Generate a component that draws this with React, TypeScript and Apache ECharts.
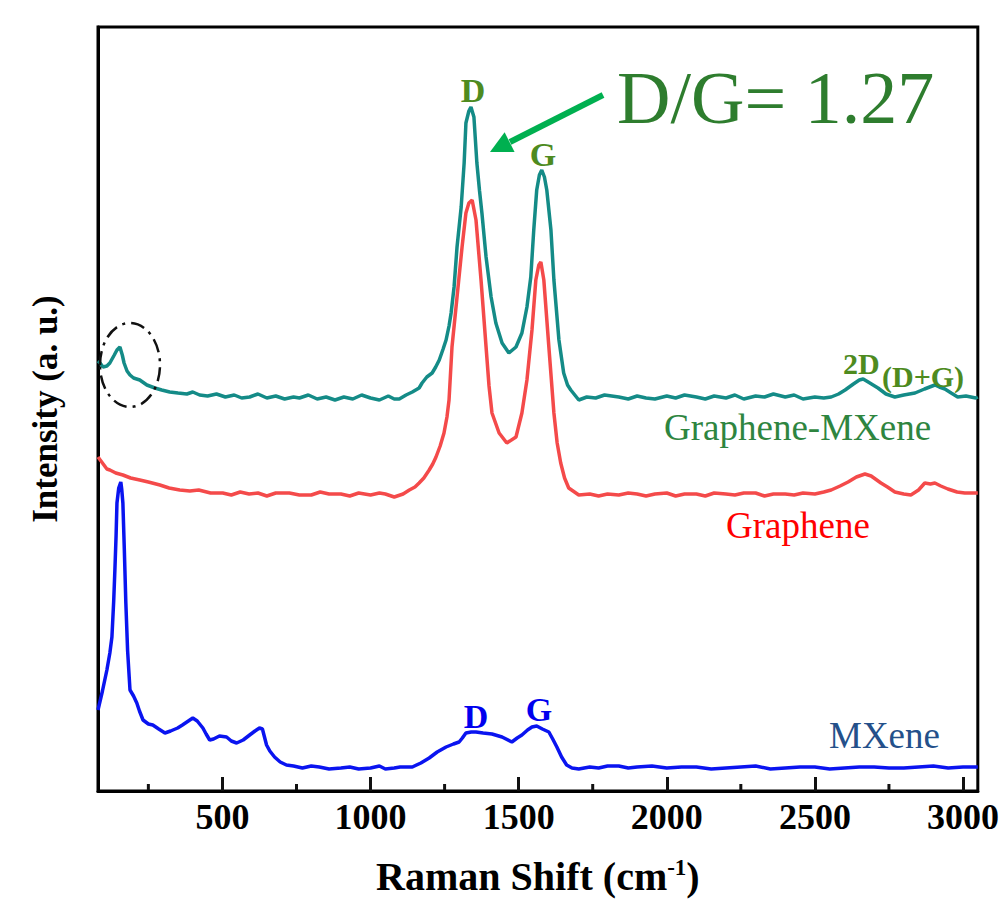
import React, { useEffect, useRef } from "react";
import * as echarts from "echarts";

// Raman shift (cm-1) vs intensity (a.u., offset stacked as in the figure)
const grapheneMXene: [number, number][] = [
  [80,430],[87,428],[97,424],[110,425],[120,428],[135,436],[144,441],[154,444],[162,436],[168,428],[178,420],[188,416],[200,413],[221,411],[245,406],[272,403],[295,401],[322,399],[350,398],[380,397],[400,399],[423,396],[450,395],[480,397],[510,394],[540,396],[565,393],[592,394],[620,397],[650,393],[680,395],[710,392],[740,394],[760,393],[790,396],[820,392],[850,394],[880,391],[910,394],[940,392],[970,396],[1000,393],[1030,391],[1060,395],[1080,392],[1097,392],[1120,396],[1141,399],[1164,403],[1174,408],[1190,414],[1208,418],[1220,424],[1232,431],[1245,442],[1255,451],[1265,465],[1272,478],[1282,504],[1292,544],[1306,584],[1316,628],[1322,668],[1332,680],[1339,684],[1349,674],[1359,628],[1368,600],[1376,578],[1390,534],[1407,494],[1423,468],[1444,448],[1467,438],[1491,444],[1511,458],[1528,484],[1541,514],[1551,561],[1561,601],[1570,616],[1578,621],[1587,614],[1595,601],[1609,561],[1619,511],[1636,451],[1652,418],[1665,406],[1676,401],[1703,391],[1730,394],[1760,393],[1790,396],[1838,394],[1870,392],[1900,395],[1930,393],[1960,392],[2000,395],[2030,393],[2060,396],[2100,394],[2130,392],[2160,395],[2200,393],[2230,396],[2260,392],[2300,395],[2330,394],[2360,397],[2400,394],[2430,396],[2460,392],[2500,394],[2530,393],[2555,394],[2580,397],[2602,401],[2630,407],[2650,411],[2663,412],[2680,409],[2713,403],[2740,397],[2770,394],[2800,396],[2838,398],[2870,402],[2905,406],[2920,404],[2939,402],[2960,398],[2982,394],[3010,395],[3043,393],[3050,394]
];

const graphene: [number, number][] = [
  [80,334],[95,328],[110,322],[120,321],[140,318],[164,316],[190,313],[221,311],[250,309],[289,306],[320,303],[356,301],[390,300],[420,301],[460,298],[501,298],[530,296],[560,299],[590,297],[620,298],[650,295],[680,298],[726,298],[760,296],[800,296],[830,299],[860,297],[900,297],[930,295],[960,298],[1000,296],[1030,298],[1050,297],[1080,294],[1110,297],[1131,301],[1150,304],[1164,308],[1180,313],[1198,321],[1210,327],[1221,334],[1235,345],[1248,358],[1258,374],[1265,391],[1275,444],[1292,494],[1309,544],[1322,578],[1332,588],[1343,591],[1356,571],[1373,511],[1390,444],[1400,405],[1410,378],[1434,358],[1460,348],[1491,354],[1511,378],[1528,411],[1545,461],[1558,511],[1568,526],[1575,529],[1585,511],[1602,444],[1619,378],[1630,348],[1642,328],[1655,313],[1669,303],[1703,296],[1740,297],[1770,295],[1800,297],[1838,296],[1870,298],[1900,297],[1930,295],[1960,297],[2000,298],[2030,295],[2060,297],[2100,297],[2130,295],[2160,298],[2200,297],[2230,296],[2260,298],[2300,298],[2330,295],[2360,297],[2400,297],[2430,296],[2460,298],[2500,297],[2530,299],[2555,301],[2585,305],[2612,309],[2640,314],[2669,317],[2690,315],[2723,308],[2745,304],[2770,299],[2800,297],[2824,296],[2850,301],[2871,308],[2890,307],[2905,308],[2925,305],[2949,302],[2980,299],[3006,298],[3043,298],[3050,298]
];

const mxene: [number, number][] = [
  [80,81],[95,100],[110,121],[120,138],[127,154],[133,190],[137,221],[141,255],[144,288],[150,303],[157,309],[160,302],[164,288],[169,240],[174,188],[180,140],[188,101],[200,95],[211,88],[220,80],[232,71],[250,67],[265,66],[285,62],[306,58],[325,60],[349,63],[365,66],[380,69],[400,73],[415,70],[434,63],[445,57],[457,51],[470,52],[490,55],[514,54],[530,50],[548,48],[570,51],[592,56],[610,60],[625,63],[635,62],[649,46],[660,40],[676,34],[695,29],[716,26],[740,25],[770,23],[800,25],[827,24],[860,22],[900,23],[930,24],[960,22],[1000,23],[1030,25],[1050,22],[1080,23],[1100,24],[1141,24],[1170,28],[1198,33],[1225,39],[1255,44],[1280,47],[1299,49],[1310,53],[1322,58],[1340,59],[1356,59],[1380,58],[1410,57],[1444,54],[1477,49],[1495,53],[1511,56],[1530,61],[1545,64],[1561,65],[1580,62],[1602,59],[1615,52],[1629,44],[1645,34],[1662,26],[1680,23],[1703,22],[1740,24],[1770,23],[1800,25],[1838,25],[1870,23],[1900,24],[1950,25],[2000,23],[2050,24],[2100,24],[2150,22],[2200,23],[2250,24],[2300,25],[2350,22],[2400,23],[2450,24],[2500,24],[2550,22],[2600,23],[2650,24],[2700,24],[2750,23],[2800,23],[2850,24],[2900,25],[2950,23],[3000,24],[3050,24]
];

const majorTicks = [500, 1000, 1500, 2000, 2500, 3000];
const minorTicks = [250, 750, 1250, 1750, 2250, 2750];

const SERIF = '"Liberation Serif", "Times New Roman", serif';
const TICK = "#111111";

function txt(text: string, x: number, y: number, size: number, color: string, bold: boolean, align: string = "left") {
  return {
    type: "text",
    z: 100,
    style: {
      text,
      x,
      y,
      fill: color,
      font: `${bold ? "bold " : ""}${size}px ${SERIF}`,
      align,
      verticalAlign: "middle",
      textAlign: align,
      textVerticalAlign: "middle",
    },
  };
}

export default function App() {
  const ref = useRef<HTMLDivElement>(null);
  useEffect(() => {
    document.body.style.margin = "0";
    const chart = echarts.init(ref.current!, null, { renderer: "svg" });
    const axisFont = { fontFamily: SERIF, fontWeight: "bold" as const, fontSize: 35, color: "#000" };
    chart.setOption({
      animation: false,
      backgroundColor: "#ffffff",
      grid: { left: 98, right: 22, top: 27, bottom: 118, show: true, borderColor: "#000", borderWidth: 3, backgroundColor: "transparent" },
      xAxis: {
        type: "value",
        min: 80,
        max: 3050,
        position: "bottom",
        splitLine: { show: false },
        axisLine: { show: true, lineStyle: { color: "#000", width: 3 } },
        axisTick: { show: true, inside: true, length: 14, customValues: majorTicks, lineStyle: { color: TICK, width: 3 } },
        axisLabel: { show: true, customValues: majorTicks, margin: 8, formatter: (v: number) => String(v), ...axisFont, fontSize: 36 },
        name: "Raman Shift (cm{sup|-1})",
        nameLocation: "middle",
        nameGap: 65,
        nameTextStyle: {
          ...axisFont,
          fontSize: 40,
          rich: {
            sup: { fontFamily: SERIF, fontWeight: "bold", fontSize: 23, color: "#000", verticalAlign: "top", padding: [0, 0, 15, 0] },
          },
        },
      },
      yAxis: {
        type: "value",
        min: 0,
        max: 764,
        splitLine: { show: false },
        axisLine: { show: true, lineStyle: { color: "#000", width: 3 } },
        axisTick: { show: false },
        axisLabel: { show: false },
        name: "Intensity (a. u.)",
        nameLocation: "middle",
        nameGap: 35,
        nameTextStyle: axisFont,
      },
      series: [
        { name: "Graphene-MXene", type: "line", data: grapheneMXene, showSymbol: false, lineStyle: { color: "#148b87", width: 3.5 }, itemStyle: { color: "#148b87" } },
        { name: "Graphene", type: "line", data: graphene, showSymbol: false, lineStyle: { color: "#f44a4a", width: 3.5 }, itemStyle: { color: "#f44a4a" } },
        { name: "MXene", type: "line", data: mxene, showSymbol: false, lineStyle: { color: "#0a14f0", width: 3.5 }, itemStyle: { color: "#0a14f0" } },
      ],
    });

    // minor ticks placed through the x-axis scale
    const yb = Number(chart.convertToPixel({ yAxisIndex: 0 }, 0));
    const minorEls: any[] = minorTicks.map((v) => {
      const x = Number(chart.convertToPixel({ xAxisIndex: 0 }, v));
      return {
        type: "rect",
        shape: { x: x - 1.5, y: yb - 7, width: 3, height: 7 },
        style: { fill: TICK },
      };
    });

    chart.setOption({
      graphic: [
        ...minorEls,
        txt("D", 473, 90, 34, "#4e8b1f", true, "center"),
        txt("G", 543, 154, 34, "#4e8b1f", true, "center"),
        txt("2D", 843, 363, 30, "#4e8b1f", true),
        txt("(D+G)", 882, 376, 30, "#4e8b1f", true),
        txt("Graphene-MXene", 664, 427, 37, "#2e8540", false),
        txt("Graphene", 726, 525, 37, "#ff0000", false),
        txt("MXene", 829, 735, 37, "#24508a", false),
        txt("D", 476, 716, 34, "#0000ee", true, "center"),
        txt("G", 539, 709, 34, "#0000ee", true, "center"),
        txt("D/G= 1.27", 617, 98, 74, "#2e7d2e", false),
        {
          type: "line",
          z: 100,
          shape: { x1: 603, y1: 95, x2: 510, y2: 142 },
          style: { stroke: "#00b050", lineWidth: 6 },
        },
        {
          type: "polygon",
          z: 100,
          shape: { points: [[490, 152], [504.6, 132.3], [514.6, 151.9]] },
          style: { fill: "#00b050" },
        },
        {
          type: "ellipse",
          z: 100,
          shape: { cx: 130, cy: 365, rx: 30, ry: 42 },
          style: { fill: "none", stroke: "#111", lineWidth: 2.5, lineDash: [14, 6, 3, 6] },
        },
      ],
    });
    return () => chart.dispose();
  }, []);
  return <div ref={ref} style={{ width: 1002, height: 909 }} />;
}
